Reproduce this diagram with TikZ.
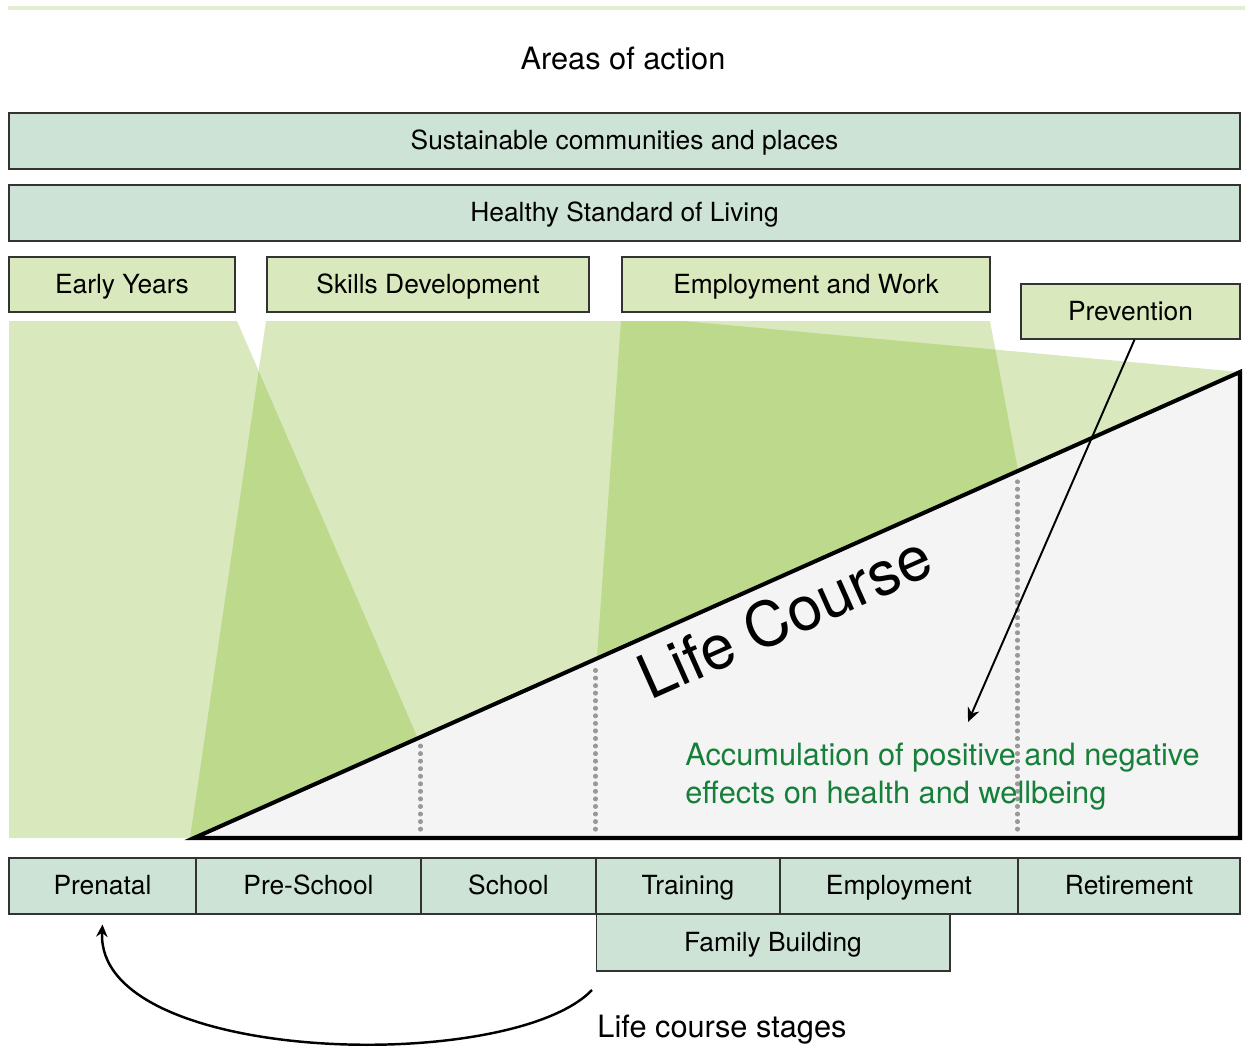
\documentclass[tikz,border=0pt]{standalone}
\usepackage{fontspec}
\setmainfont{TeX Gyre Heros}
\usetikzlibrary{arrows.meta,calc}
\definecolor{areaGreen}{RGB}{204,227,213}
\definecolor{beamLight}{RGB}{217,233,189}
\definecolor{beamDark}{RGB}{188,217,140}
\definecolor{courseGrey}{RGB}{244,244,244}
\definecolor{accGreen}{RGB}{22,128,58}
\definecolor{rimGreen}{RGB}{227,237,210}

\begin{document}
\begin{tikzpicture}[%
    x=0.02cm, y=-0.02cm,
    areaBox/.style={
      rectangle,
      draw=black!80,
      line width=0.8pt,
      fill=areaGreen,
      inner sep=0pt,
      minimum height=1.12cm,
      text height=12.5pt,
      text depth=2.5pt,
      font=\fontsize{15}{18}\selectfont
    },
    actionBox/.style={
      areaBox,
      fill=beamLight,
      minimum height=1.1cm
    },
    stageBox/.style={
      areaBox,
      line width=0.6pt
    },
    bigTitle/.style={
      font=\fontsize{17.5}{21}\selectfont
    },
    accumText/.style={
      text=accGreen,
      align=left,
      inner sep=0pt,
      font=\fontsize{17.5}{21.5}\selectfont
    },
    dotLine/.style={
      black!40,
      line width=2.4pt,
      line cap=round,
      dash pattern=on 0.4pt off 3.9pt
    }
  ]
    \useasboundingbox (0,0) rectangle (1247,1048);

    % thin rim on top
    \draw[rimGreen, line width=2.3pt] (8,8) -- (1245,8);

    \node[bigTitle] (title) at (623,58) {Areas of action};

    % Beams below the action boxes
    \fill[beamLight] (9,321) -- (237,321) -- (461,838) -- (9,838) -- cycle;
    \fill[beamLight] (266,321) -- (683,321) -- (1240,372) -- (1240,838) -- (190,838) -- cycle;
    \fill[beamLight] (621,321) -- (990,321) -- (1087,838) -- (584,838) -- cycle;

    % where two beams overlap
    \begin{scope}
      \clip (9,321) -- (237,321) -- (461,838) -- (9,838) -- cycle;
      \fill[beamDark] (266,321) -- (683,321) -- (1240,372) -- (1240,838) -- (190,838) -- cycle;
    \end{scope}
    \begin{scope}
      \clip (266,321) -- (683,321) -- (1240,372) -- (1240,838) -- (190,838) -- cycle;
      \fill[beamDark] (621,321) -- (990,321) -- (1087,838) -- (584,838) -- cycle;
    \end{scope}

    % Life course wedge
    \draw[line width=2.3pt, fill=courseGrey] (194,838)
      -- node[sloped, below, pos=0.55, inner sep=7pt, font=\fontsize{35}{40}\selectfont] (lc) {Life Course}
      (1240,372) -- (1240,838) -- cycle;

    \draw (624.5,141) node[areaBox, minimum width=24.62cm] (sus) {Sustainable communities and places}
          (624.5,213) node[areaBox, minimum width=24.62cm] (hsl) {Healthy Standard of Living}
          (122,284.5) node[actionBox, minimum width=4.52cm] (ey) {Early Years}
          (428,284.5) node[actionBox, minimum width=6.44cm] (sd) {Skills Development}
          (806,284.5) node[actionBox, minimum width=7.36cm] (ew) {Employment and Work}
          (1130.5,311.5) node[actionBox, minimum width=4.38cm] (prev) {Prevention};

    \draw (102.5,886) node[stageBox, minimum width=3.74cm] (pre) {Prenatal}
          (308.5,886) node[stageBox, minimum width=4.50cm] (psc) {Pre-School}
          (508.5,886) node[stageBox, minimum width=3.50cm] (sch) {School}
          (688,886) node[stageBox, minimum width=3.68cm] (tra) {Training}
          (899,886) node[stageBox, minimum width=4.76cm] (emp) {Employment}
          (1129,886) node[stageBox, minimum width=4.44cm] (ret) {Retirement}
          (773,942.5) node[stageBox, minimum width=7.08cm, minimum height=1.14cm] (fam) {Family Building};

    % stage borders carried up into the wedge
    \draw[dotLine] ($(sch.north west)+(0,-28)$) -- ($(sch.north west)+(0,-112)$);
    \draw[dotLine] ($(tra.north west)+(0,-28)$) -- ($(tra.north west)+(0,-190)$);
    \draw[dotLine] ($(ret.north west)+(0,-28)$) -- ($(ret.north west)+(0,-376)$);

    \node[accumText, anchor=north west] (acc) at (685,743)
      {Accumulation of positive and negative\\effects on health and wellbeing};

    \coordinate (accTip) at (968,722);
    \draw[-{Stealth[length=8pt,width=7pt]}, line width=1.1pt] ([xshift=0.08cm]prev.south) -- (accTip);

    \coordinate (loopStart) at (592,990);
    \draw[-{Stealth[length=7pt,width=6.5pt]}, line width=1.4pt] (loopStart)
      .. controls (510,1075) and (95,1065) .. ([yshift=-0.2cm]pre.south);

    \node[bigTitle] (lcs) at (722,1030) {Life course stages};
\end{tikzpicture}
\end{document}
